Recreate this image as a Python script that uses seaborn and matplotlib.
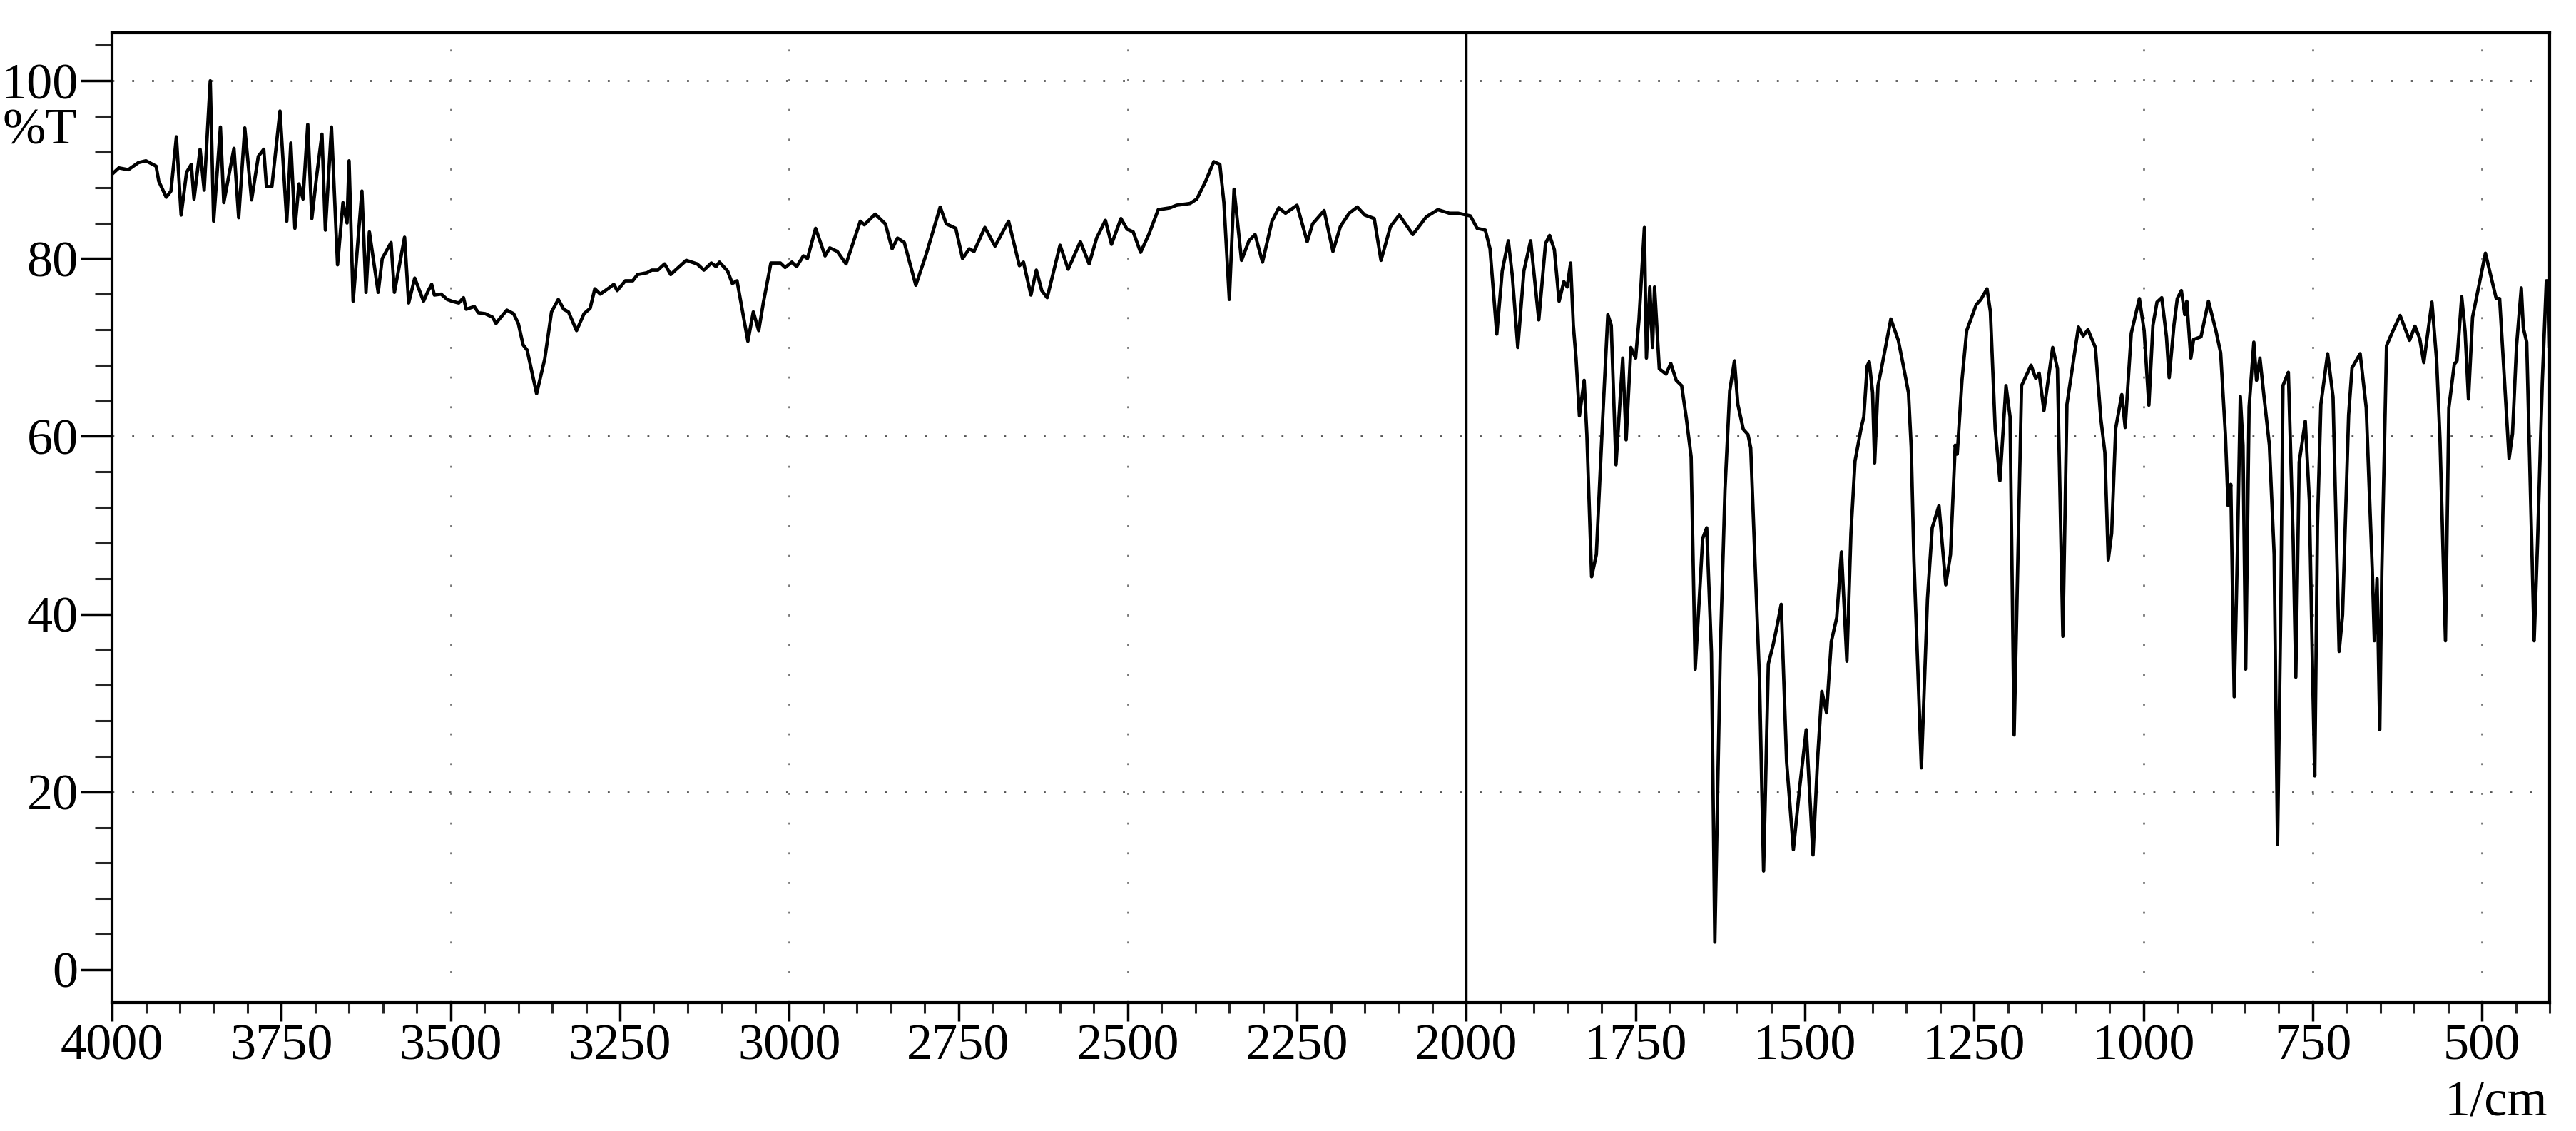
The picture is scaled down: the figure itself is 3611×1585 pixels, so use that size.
import numpy as np
import pandas as pd
import matplotlib
matplotlib.use("Agg")
import matplotlib.pyplot as plt
from matplotlib.ticker import MultipleLocator, FixedLocator
import seaborn as sns

# ---------------- data ----------------
wavenumber = [
    4000, 3990, 3976, 3961, 3950, 3935, 3931, 3920, 3913, 3905, 3898, 3890, 3883, 3879, 3870, 3864,
    3855, 3850, 3840, 3835, 3820, 3813, 3804, 3794, 3784, 3776, 3772, 3764, 3752, 3742, 3736, 3730,
    3724, 3718, 3711, 3705, 3698, 3690, 3685, 3676, 3667, 3659, 3653, 3650, 3644, 3631, 3625, 3620,
    3607, 3601, 3588, 3583, 3568, 3562, 3553, 3540,
    3533, 3528, 3524, 3514, 3505, 3498, 3488, 3481, 3477, 3465, 3459, 3449, 3438, 3433, 3428, 3417,
    3407, 3400, 3393, 3387, 3373, 3361, 3351, 3341, 3333, 3326, 3314, 3303, 3294, 3287, 3279, 3266,
    3259, 3254, 3242, 3231, 3224, 3210, 3203, 3194, 3184, 3175, 3168, 3152, 3136, 3126, 3115, 3108,
    3103, 3091, 3084, 3077, 3061, 3053, 3045, 3038, 3027, 3013,
    3006, 2996, 2989, 2979, 2973, 2961, 2947, 2940, 2929, 2916, 2895, 2889, 2873, 2858, 2848, 2840,
    2830, 2813, 2798, 2777, 2768, 2754, 2744, 2734, 2727, 2711, 2696, 2676, 2660, 2654, 2643, 2635,
    2627, 2619, 2600, 2588, 2570, 2557, 2546, 2533, 2524, 2510, 2501, 2492, 2481, 2469, 2455, 2438,
    2428, 2408, 2398, 2385, 2373, 2364, 2358, 2350, 2343, 2332, 2321, 2312, 2301, 2287, 2277, 2267,
    2250, 2235, 2227, 2210, 2197, 2186, 2173, 2161, 2150, 2136, 2126, 2112, 2099, 2079, 2059, 2042,
    2025, 2012,
    1994, 1984, 1972, 1965, 1955, 1947, 1938, 1932, 1924, 1915, 1905, 1893, 1883, 1877, 1870, 1863,
    1856, 1851, 1846, 1842, 1838, 1833, 1826, 1822, 1815, 1808, 1799, 1791, 1786, 1779, 1769, 1764,
    1757, 1750, 1745, 1737, 1734, 1729, 1725, 1722, 1715, 1705, 1698, 1690, 1682, 1675, 1668, 1662,
    1655, 1651, 1645, 1638, 1633, 1625, 1618, 1611, 1604, 1599, 1591, 1584, 1580, 1574, 1567, 1561,
    1554, 1547, 1541, 1535, 1527, 1517, 1508, 1498, 1488, 1481, 1475, 1468, 1461, 1453, 1446, 1438,
    1432, 1426, 1417, 1413, 1408, 1405, 1400, 1397, 1392, 1387, 1373, 1362, 1355, 1347, 1343, 1339,
    1328, 1319, 1312, 1302, 1292, 1285, 1278, 1275, 1268, 1261, 1247, 1240, 1231, 1226, 1219, 1212,
    1203, 1197, 1191, 1180, 1166, 1159, 1154, 1147, 1134, 1127, 1119, 1113, 1096, 1089, 1082, 1071,
    1063, 1057, 1052, 1047, 1041, 1032, 1027, 1018, 1006, 999, 992, 986, 980, 973, 966, 962,
    955, 950, 944, 939, 936, 930, 926, 915, 904, 893, 886, 879, 875, 871, 866, 861,
    857, 853, 849, 844, 837, 833, 828, 822, 814, 807, 802, 797, 794, 786, 779, 775,
    770, 761, 755, 750, 747, 743, 738, 728, 720, 711, 706, 697, 692, 680, 671, 662,
    659, 655, 651, 648, 641, 632, 621, 607, 599, 592, 586, 574, 567, 562, 554, 549,
    541, 537, 530, 525, 520, 514, 495, 479, 474, 460, 455, 449, 442, 439, 434, 423,
    418, 411, 405, 402, 400,
]
transmittance = [
    89.5, 90.2, 90.0, 90.8, 91.0, 90.4, 88.7, 86.9, 87.6, 93.7, 84.9, 89.7, 90.6, 86.7, 92.3, 87.7,
    100.0, 84.2, 94.8, 86.3, 92.4, 84.6, 94.7, 86.6, 91.5, 92.3, 88.1, 88.1, 96.6, 84.2, 93.0, 83.4,
    88.4, 86.7, 95.1, 84.5, 89.2, 94.0, 83.2, 94.8, 79.3, 86.3, 84.0, 91.0, 75.2, 87.6, 76.2, 83.0,
    76.2, 80.0, 81.8, 76.2, 82.4, 75.0, 77.8, 75.2,
    76.4, 77.1, 75.9, 76.0, 75.4, 75.2, 75.0, 75.6, 74.3, 74.6, 73.9, 73.8, 73.4, 72.7, 73.2, 74.2,
    73.8, 72.7, 70.3, 69.7, 64.8, 68.7, 74.0, 75.4, 74.3, 74.0, 71.9, 73.8, 74.4, 76.6, 76.0, 76.7,
    77.1, 76.4, 77.5, 77.5, 78.2, 78.4, 78.7, 78.7, 79.4, 78.2, 78.7, 79.8, 79.4, 78.7, 79.5, 79.1,
    79.6, 78.6, 77.2, 77.5, 70.7, 74.0, 71.9, 75.1, 79.5, 79.5,
    79.0, 79.6, 79.1, 80.3, 80.0, 83.4, 80.3, 81.2, 80.8, 79.4, 84.2, 83.8, 85.0, 83.9, 81.1, 82.3,
    81.8, 77.0, 80.4, 85.8, 83.9, 83.4, 80.0, 81.1, 80.8, 83.5, 81.4, 84.2, 79.2, 79.6, 75.9, 78.7,
    76.4, 75.6, 81.5, 78.8, 81.9, 79.4, 82.3, 84.3, 81.6, 84.5, 83.3, 83.0, 80.7, 82.7, 85.5, 85.7,
    86.0, 86.2, 86.7, 88.7, 90.9, 90.6, 86.3, 75.4, 87.8, 79.8, 82.0, 82.7, 79.6, 84.2, 85.7, 85.1,
    86.0, 81.9, 83.9, 85.4, 80.8, 83.6, 85.1, 85.8, 84.9, 84.5, 79.8, 83.6, 84.9, 82.7, 84.7, 85.5,
    85.1, 85.1,
    84.8, 83.4, 83.2, 81.1, 71.5, 78.6, 82.0, 78.0, 70.0, 78.6, 82.0, 73.1, 81.7, 82.6, 81.0, 75.2,
    77.4, 76.8, 79.5, 72.5, 68.8, 62.3, 66.3, 60.2, 44.2, 46.7, 61.4, 73.7, 72.5, 56.8, 68.8, 59.6,
    70.0, 68.8, 73.1, 83.5, 68.8, 76.8, 70.0, 76.8, 67.6, 67.0, 68.2, 66.3, 65.7, 62.0, 57.7, 33.8,
    43.0, 48.5, 49.7, 35.6, 3.1, 35.6, 54.0, 65.1, 68.5, 63.6, 60.8, 60.2, 58.7, 46.7, 32.5, 11.1,
    34.4, 36.5, 38.7, 41.1, 23.4, 13.5, 20.3, 27.0, 12.9, 24.0, 31.3, 28.9, 36.9, 39.6, 47.0, 34.7,
    49.1, 57.2, 60.9, 62.2, 67.9, 68.4, 64.9, 57.0, 65.7, 67.6, 73.2, 70.8, 68.1, 64.9, 58.8, 46.1,
    22.7, 41.7, 49.7, 52.2, 43.3, 46.7, 59.0, 58.0, 66.3, 71.9, 74.8, 75.4, 76.6, 74.0, 60.9, 55.0,
    65.7, 62.2, 26.4, 65.7, 68.0, 66.5, 67.1, 62.9, 70.0, 67.6, 37.5, 63.6, 72.3, 71.3, 72.0, 70.0,
    62.0, 58.2, 46.1, 49.1, 60.9, 64.7, 61.0, 71.6, 75.5, 71.9, 63.5, 72.5, 75.1, 75.6, 71.2, 66.6,
    72.5, 75.5, 76.4, 73.7, 75.2, 68.8, 70.9, 71.2, 75.2, 71.9, 69.4, 60.2, 52.2, 54.6, 30.7, 47.9,
    64.5, 59.0, 33.8, 63.3, 70.6, 66.3, 68.8, 64.5, 59.0, 46.7, 14.1, 41.8, 65.7, 67.2, 48.5, 32.9,
    57.1, 61.7, 52.8, 32.5, 21.8, 50.0, 63.6, 69.3, 64.4, 35.8, 39.9, 62.4, 67.7, 69.3, 63.2, 44.8,
    37.0, 44.0, 27.0, 44.8, 70.2, 71.8, 73.6, 70.8, 72.4, 71.0, 68.3, 75.1, 68.5, 59.5, 37.0, 63.2,
    68.1, 68.5, 75.7, 71.8, 64.2, 73.4, 80.6, 75.5, 75.5, 57.5, 60.3, 70.2, 76.7, 72.2, 70.6, 37.0,
    48.0, 66.1, 77.5, 77.5, 70.0,
]
x_tick_values = [4000, 3750, 3500, 3250, 3000, 2750, 2500, 2250, 2000, 1750, 1500, 1250, 1000, 750, 500]
x_tick_labels = [str(v) for v in x_tick_values]
y_tick_values = [0, 20, 40, 60, 80, 100]
y_tick_labels = [str(v) for v in y_tick_values]
y_label = "%T"
x_label = "1/cm"

# ---------------- style ----------------
sns.set_style("ticks")
plt.rcParams['font.family'] = ['Liberation Serif', 'DejaVu Serif']

FS = 52
fig = plt.figure(figsize=(36.11, 15.85), dpi=100)
fig.patch.set_facecolor('white')
ax = fig.add_axes([0.0435, 0.1136, 0.9463, 0.8574])
ax.set_facecolor('white')

df = pd.DataFrame({'wavenumber': wavenumber, 'T': transmittance})

# faint dotted chart-paper gridlines
for yv in [20, 60, 100]:
    ax.axhline(yv, color='#555555', lw=2.0, ls=(0, (1, 9)), zorder=1)
for xv in [3500, 3000, 2500, 1000, 750, 500]:
    ax.axvline(xv, color='#777777', lw=2.0, ls=(0, (1, 14)), zorder=1)
ax.axvline(2000, color='black', lw=2.5, zorder=2)

sns.lineplot(data=df, x='wavenumber', y='T', ax=ax, color='black', lw=3.4,
             estimator=None, sort=False, zorder=3)

ax.set_xlim(4000, 400)
ax.set_ylim(-3.7, 105.4)

ax.xaxis.set_major_locator(FixedLocator(x_tick_values))
ax.set_xticklabels(x_tick_labels)
ax.xaxis.set_minor_locator(MultipleLocator(50))
ax.yaxis.set_major_locator(FixedLocator(y_tick_values))
ax.set_yticklabels(y_tick_labels)
ax.yaxis.set_minor_locator(MultipleLocator(4))

ax.tick_params(axis='x', which='major', direction='out', length=19, width=2.5, pad=2,
               labelsize=FS, colors='black')
ax.tick_params(axis='x', which='minor', direction='out', length=11, width=2.2)
ax.tick_params(axis='y', which='major', direction='out', length=32, width=2.5, pad=2,
               labelsize=FS, colors='black')
ax.tick_params(axis='y', which='minor', direction='out', length=17, width=2.2)

for s in ax.spines.values():
    s.set_visible(True)
    s.set_linewidth(3)
    s.set_color('black')

ax.set_xlabel('')
ax.set_ylabel('')

fig.text(108 / 3611, 1 - 184 / 1585, y_label, ha='right', va='center', fontsize=FS, color='black')
fig.text(3571 / 3611, 1 - 1545 / 1585, x_label, ha='right', va='center', fontsize=FS, color='black')

fig.savefig('out.png', dpi=100, facecolor='white')
